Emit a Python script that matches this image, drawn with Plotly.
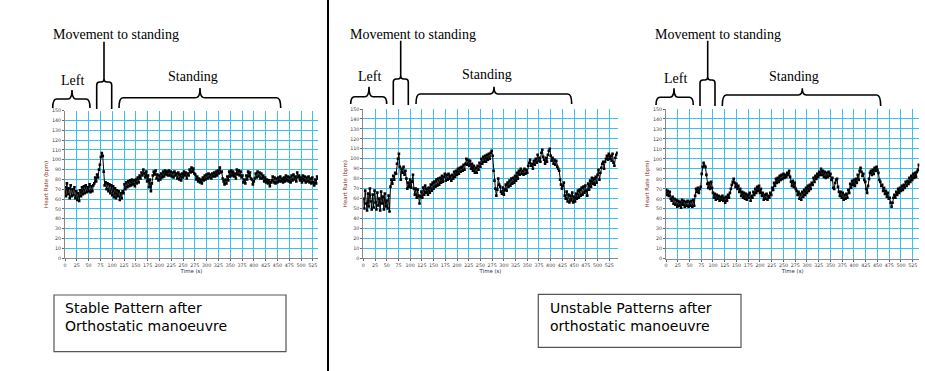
import plotly.graph_objects as go

# ---------------- data (heart rate, bpm, sampled every 2 s) ----------------
sample_step_s = 2

hr_stable = [
    72, 63, 76, 65, 71, 61, 74, 63, 70, 64,
    72, 61, 68, 59, 66, 58, 69, 63, 72, 65,
    73, 66, 74, 67, 72, 68, 75, 67, 73, 68,
    74, 76, 82, 78, 85, 82, 90, 95, 103, 107,
    104, 88, 74, 77, 70, 76, 68, 75, 66, 74,
    64, 73, 62, 71, 61, 69, 63, 68, 59, 66,
    61, 68, 66, 75, 70, 77, 72, 78, 73, 79,
    74, 80, 75, 79, 73, 80, 76, 82, 77, 84,
    81, 87, 84, 90, 86, 82, 88, 78, 84, 72,
    80, 68, 76, 84, 88, 85, 89, 81, 85, 79,
    84, 80, 86, 82, 88, 83, 89, 85, 88, 84,
    89, 84, 88, 83, 87, 82, 88, 84, 86, 81,
    87, 80, 85, 79, 86, 82, 88, 84, 87, 81,
    86, 84, 90, 87, 92, 88, 91, 86, 85, 80,
    83, 78, 81, 77, 80, 76, 82, 79, 84, 80,
    85, 81, 86, 82, 85, 81, 86, 83, 87, 83,
    88, 84, 89, 86, 92, 87, 88, 81, 78, 75,
    80, 76, 83, 79, 88, 83, 89, 84, 88, 83,
    86, 81, 90, 85, 89, 84, 88, 82, 84, 77,
    80, 76, 84, 80, 88, 83, 87, 81, 80, 75,
    78, 81, 86, 82, 88, 83, 87, 81, 86, 81,
    84, 78, 82, 77, 80, 76, 79, 73, 77, 79,
    83, 77, 82, 76, 81, 77, 82, 78, 83, 78,
    81, 77, 82, 78, 84, 79, 83, 78, 82, 77,
    84, 79, 85, 80, 83, 78, 87, 82, 84, 79,
    82, 77, 84, 79, 83, 77, 82, 78, 83, 77,
    81, 76, 82, 77, 74, 80, 76, 83, 81,
]

hr_unstable_a = [
    60, 50, 68, 55, 48, 65, 52, 70, 57, 49,
    64, 51, 68, 56, 49, 66, 53, 60, 48, 67,
    55, 62, 49, 65, 52, 58, 50, 63, 47, 72,
    79, 75, 83, 79, 86, 85, 95, 100, 105, 92,
    79, 90, 86, 92, 84, 88, 80, 70, 76, 72,
    79, 71, 77, 84, 70, 64, 70, 61, 69, 63,
    55, 62, 67, 61, 71, 64, 73, 66, 70, 64,
    71, 66, 74, 68, 76, 70, 77, 72, 79, 73,
    80, 74, 81, 76, 83, 77, 82, 85, 78, 84,
    79, 85, 80, 83, 78, 84, 80, 87, 82, 88,
    84, 90, 85, 91, 87, 92, 88, 94, 89, 95,
    100, 94, 99, 93, 98, 90, 95, 88, 93, 86,
    91, 86, 93, 89, 96, 92, 100, 95, 102, 97,
    103, 97, 104, 99, 105, 100, 106, 108, 103, 88,
    78, 70, 63, 69, 80, 74, 72, 67, 65, 71,
    64, 69, 74, 68, 76, 72, 78, 73, 80, 75,
    81, 76, 83, 78, 86, 80, 88, 84, 90, 85,
    88, 84, 90, 85, 89, 86, 93, 96, 99, 93,
    95, 90, 98, 94, 100, 96, 104, 98, 101, 97,
    106, 109, 102, 99, 95, 101, 97, 104, 108, 110,
    103, 98, 101, 95, 99, 94, 98, 92, 90, 88,
    79, 74, 70, 73, 76, 63, 60, 67, 57, 64,
    56, 63, 58, 66, 56, 62, 57, 65, 60, 68,
    61, 69, 63, 71, 64, 72, 66, 73, 68, 63,
    75, 69, 78, 72, 81, 75, 80, 74, 82, 76,
    84, 89, 79, 86, 91, 95, 97, 90, 97, 100,
    103, 99, 105, 100, 103, 98, 105, 96, 93, 101,
    104, 106,
]

hr_unstable_b = [
    69, 64, 68, 63, 67, 60, 58, 62, 55, 60,
    54, 59, 52, 58, 53, 57, 51, 59, 54, 58,
    52, 57, 53, 58, 52, 57, 53, 58, 52, 59,
    53, 63, 70, 67, 71, 66, 70, 72, 85, 92,
    96, 93, 92, 84, 75, 71, 76, 70, 77, 71,
    66, 61, 65, 59, 64, 60, 63, 58, 62, 59,
    63, 58, 61, 56, 62, 58, 64, 61, 66, 70,
    74, 77, 80, 76, 72, 75, 70, 73, 67, 70,
    63, 67, 61, 66, 60, 65, 59, 64, 61, 66,
    58, 63, 61, 67, 64, 70, 66, 72, 68, 73,
    66, 70, 63, 66, 59, 64, 60, 65, 59, 63,
    61, 66, 64, 71, 69, 76, 73, 80, 76, 81,
    77, 83, 79, 84, 80, 85, 81, 84, 82, 86,
    84, 88, 82, 77, 73, 78, 72, 76, 70, 68,
    64, 67, 60, 65, 59, 67, 62, 69, 64, 71,
    66, 73, 68, 74, 70, 76, 74, 81, 77, 83,
    80, 85, 82, 87, 84, 90, 84, 88, 82, 87,
    81, 86, 82, 87, 83, 85, 79, 81, 71, 70,
    76, 79, 80, 72, 67, 63, 67, 61, 66, 59,
    64, 60, 65, 61, 69, 66, 75, 71, 78, 74,
    79, 73, 80, 76, 84, 79, 88, 91, 87, 83,
    85, 79, 77, 70, 66, 73, 80, 86, 88, 84,
    89, 85, 91, 88, 92, 89, 86, 79, 77, 73,
    74, 68, 71, 65, 68, 62, 66, 60, 61, 56,
    52, 56, 61, 64, 61, 67, 64, 70, 66, 71,
    68, 73, 69, 74, 71, 77, 73, 78, 75, 81,
    77, 83, 79, 85, 81, 86, 82, 87, 89, 94,
]

series = [hr_stable, hr_unstable_a, hr_unstable_b]
x_max = [536, 543, 539]
box_texts = ["Stable Pattern after<br>Orthostatic manoeuvre",
             "Unstable Patterns after<br>orthostatic manoeuvre"]
phase_labels = ["Movement to standing", "Left", "Standing"]

# ---------------- layout helpers (pixel -> paper) ----------------
W, H = 925, 371
def px(x):
    return x / W
def py(y):
    return 1 - y / H

# plot areas in pixels: (left, right, top, bottom)
areas = [(65, 318, 110.7, 258), (363.3, 617.7, 109, 258.3), (666, 919.3, 109, 258.7)]

grid_col = "#3DBFEF"
fig = go.Figure()

for i, (vals, xm, area) in enumerate(zip(series, x_max, areas)):
    t = [k * sample_step_s for k in range(len(vals))]
    xa = "x" if i == 0 else f"x{i+1}"
    ya = "y" if i == 0 else f"y{i+1}"
    fig.add_trace(go.Scatter(
        x=t, y=vals, xaxis=xa, yaxis=ya, mode="lines+markers",
        line=dict(color="black", width=1),
        marker=dict(color="black", size=2.6, symbol="square"),
        showlegend=False, hoverinfo="skip"))
    l, r, tp, b = area
    axcommon = dict(showgrid=True, gridcolor=grid_col, gridwidth=1, zeroline=False,
                    showline=True, linecolor="#8a8a8a", linewidth=1,
                    ticks="outside", ticklen=2, tickcolor="#666", tickwidth=0.6,
                    tickfont=dict(size=4.8, color="#444", family="DejaVu Sans"),
                    automargin=False, fixedrange=True)
    xkey = "xaxis" if i == 0 else f"xaxis{i+1}"
    ykey = "yaxis" if i == 0 else f"yaxis{i+1}"
    fig.update_layout(**{
        xkey: dict(domain=[px(l), px(r)], anchor=ya, range=[0, xm], tick0=0, dtick=25,
                   title=dict(text="Time (s)", font=dict(size=5.4, color="#1f2f5a", family="DejaVu Sans"),
                              standoff=1), **axcommon),
        ykey: dict(domain=[py(b), py(tp)], anchor=xa, range=[0, 150], tick0=0, dtick=10,
                   title=dict(text="Heart Rate (bpm)", font=dict(size=5.4, color="#8b2a2a", family="DejaVu Sans"),
                              standoff=2), **axcommon),
    })

# ---------------- brackets ----------------
def brace_path(x0, x1, xm, yl, yt, yb, r=4):
    P = lambda x, y: f"{px(x):.5f},{py(y):.5f}"
    return (f"M {P(x0, yb)} Q {P(x0, yl)} {P(x0 + r, yl)} L {P(xm - r, yl)} "
            f"Q {P(xm, yl)} {P(xm, yt)} Q {P(xm, yl)} {P(xm + r, yl)} "
            f"L {P(x1 - r, yl)} Q {P(x1, yl)} {P(x1, yb)}")

def move_path(xs, ytop, yh, xl, xr, yb, r=3):
    P = lambda x, y: f"{px(x):.5f},{py(y):.5f}"
    return (f"M {P(xs, ytop)} L {P(xs, yh - r)} Q {P(xs, yh)} {P(xs - r, yh)} L {P(xl + r, yh)} "
            f"Q {P(xl, yh)} {P(xl, yh + r)} L {P(xl, yb)} "
            f"M {P(xs, yh - r)} Q {P(xs, yh)} {P(xs + r, yh)} L {P(xr - r, yh)} "
            f"Q {P(xr, yh)} {P(xr, yh + r)} L {P(xr, yb)}")

brackets = [
    dict(left=(52.7, 90, 72, 99, 90, 108), move=(104, 41.7, 82, 96.7, 111.7, 109),
         stand=(119, 280.7, 200, 97.7, 88, 108),
         tmove=(116, 34), tleft=(72, 80), tstand=(193, 77)),
    dict(left=(350.7, 386.7, 369, 96.7, 86.7, 104), move=(400.7, 40.7, 79, 393.3, 408.3, 105),
         stand=(416, 571.7, 494, 94, 86.7, 104),
         tmove=(412.5, 34), tleft=(369, 76.7), tstand=(486.7, 74.3)),
    dict(left=(656, 693.3, 674, 97.3, 88.3, 105), move=(707.7, 40.7, 80, 700, 715, 106),
         stand=(722.3, 880.7, 802.3, 95, 88.3, 106),
         tmove=(718, 34), tleft=(675, 78.3), tstand=(794, 76)),
]

shapes = []
annots = []
serif = dict(family="Liberation Serif, Times New Roman, serif", size=14, color="black")
for bk in brackets:
    shapes.append(dict(type="path", path=brace_path(*bk["left"]), xref="paper", yref="paper",
                       line=dict(color="black", width=1.6)))
    shapes.append(dict(type="path", path=brace_path(*bk["stand"]), xref="paper", yref="paper",
                       line=dict(color="black", width=1.6)))
    shapes.append(dict(type="path", path=move_path(*bk["move"]), xref="paper", yref="paper",
                       line=dict(color="black", width=1.6)))
    for txt, key in zip(phase_labels, ["tmove", "tleft", "tstand"]):
        x, y = bk[key]
        annots.append(dict(text=txt, x=px(x), y=py(y), xref="paper", yref="paper",
                           xanchor="center", yanchor="middle", showarrow=False, font=serif))

# separator line
shapes.append(dict(type="line", xref="paper", yref="paper", x0=px(328), x1=px(328), y0=0, y1=1,
                   line=dict(color="black", width=2)))

# text boxes
boxes = [((54, 295, 286, 351.7), (63.3, 316.5)), ((538.3, 294.3, 741, 347.3), (548.3, 317))]
for (x0, y0, x1, y1), (tx, ty) in boxes:
    shapes.append(dict(type="rect", xref="paper", yref="paper", x0=px(x0), x1=px(x1),
                       y0=py(y1), y1=py(y0), line=dict(color="#555", width=1.2)))
for txt, (_, (tx, ty)) in zip(box_texts, boxes):
    annots.append(dict(text=txt, x=px(tx), y=py(ty), xref="paper", yref="paper",
                       xanchor="left", yanchor="middle", align="left", showarrow=False,
                       font=dict(family="DejaVu Sans, Verdana, sans-serif", size=14, color="black")))

fig.update_layout(width=W, height=H, margin=dict(l=0, r=0, t=0, b=0),
                  paper_bgcolor="white", plot_bgcolor="white",
                  shapes=shapes, annotations=annots, showlegend=False)

fig.write_html("out.html", config={"displayModeBar": False},
               post_script="document.body.style.margin='0';document.body.style.padding='0';"
                           "document.body.style.overflow='hidden';")
